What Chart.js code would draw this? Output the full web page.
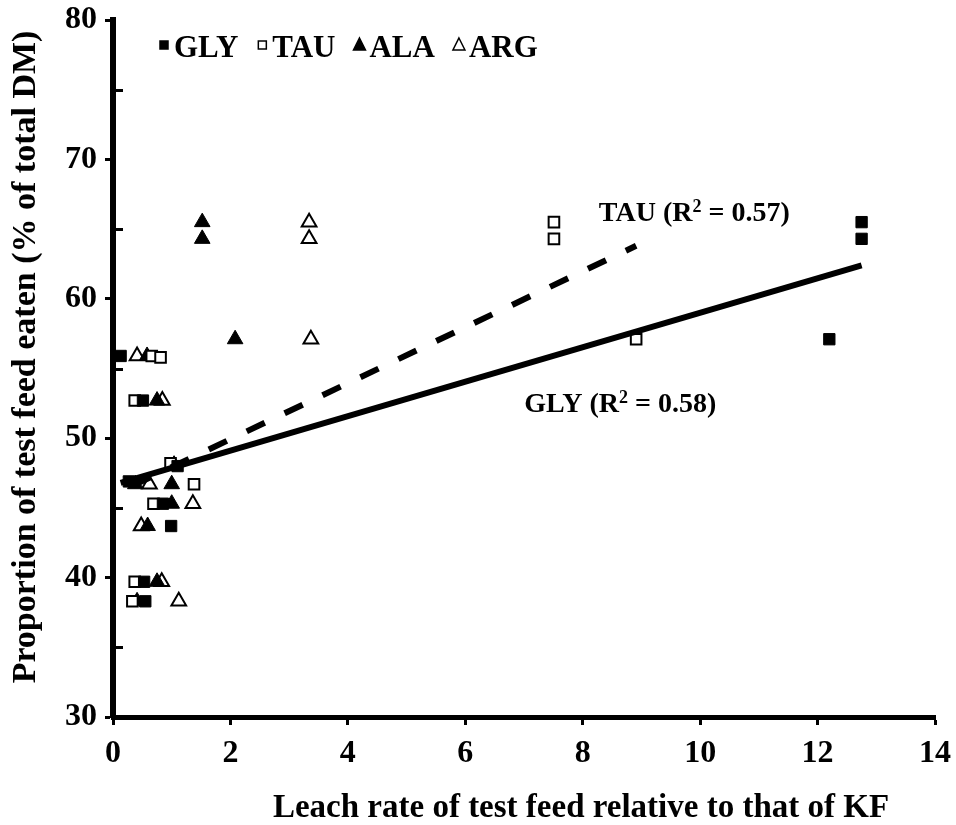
<!DOCTYPE html>
<html>
<head>
<meta charset="utf-8">
<script src="https://cdn.jsdelivr.net/npm/chart.js@4.4.1/dist/chart.umd.min.js"></script>
<style>
  body { margin: 0; background: #fff; }
  canvas { display: block; }
</style>
</head>
<body>
<canvas id="chart" width="956" height="825"></canvas>
<script>
// values
const glyX = [12.75, 12.75, 12.2, 0.13, 0.51, 1.1, 0.27, 0.85, 0.99, 0.53, 0.55];
const glyY = [65.5, 64.3, 57.1, 55.9, 52.7, 48.0, 46.9, 45.3, 43.7, 39.7, 38.3];

const tauX = [7.51, 7.51, 8.91, 0.66, 0.81, 0.37, 0.98, 1.38, 0.69, 0.37, 0.33];
const tauY = [65.5, 64.3, 57.1, 55.9, 55.8, 52.7, 48.2, 46.7, 45.3, 39.7, 38.3];

const alaX = [1.52, 1.52, 2.08, 0.58, 0.75, 1.04, 0.38, 1.0, 1.0, 0.59, 0.75, 0.41];
const alaY = [65.5, 64.3, 57.1, 55.9, 52.7, 48.1, 46.7, 46.7, 45.3, 43.7, 39.7, 38.3];

const argX = [3.34, 3.34, 3.37, 0.41, 0.84, 0.62, 1.36, 0.48, 0.83, 1.12];
const argY = [65.5, 64.3, 57.1, 55.9, 52.7, 46.7, 45.3, 43.7, 39.7, 38.3];

// trend lines (end points)
const glyFitX = [0.13, 12.75];
const glyFitY = [46.8, 62.4];
const tauFitX = [0.34, 8.91];
const tauFitY = [46.6, 63.8];

const xTicks = [0, 2, 4, 6, 8, 10, 12, 14];
const yTicks = [30, 40, 50, 60, 70, 80];
const yMinor = [35, 45, 55, 65, 75];

const FONT = '"Liberation Serif", "Times New Roman", serif';

const pts = (xs, ys) => xs.map((x, i) => ({ x, y: ys[i] }));

const legendItems = [
  { label: 'GLY', style: 'rect', fill: '#000' },
  { label: 'TAU', style: 'rect', fill: '#fff' },
  { label: 'ALA', style: 'triangle', fill: '#000' },
  { label: 'ARG', style: 'triangle', fill: '#fff' }
];

const extras = {
  id: 'extras',
  afterDraw(chart) {
    const { ctx, chartArea: a, scales: { x, y } } = chart;
    ctx.save();
    ctx.fillStyle = '#000';
    ctx.strokeStyle = '#000';

    // minor ticks, pointing inwards
    ctx.lineWidth = 3;
    for (const v of yMinor) {
      const py = Math.round(y.getPixelForValue(v)) + 0.5;
      ctx.beginPath();
      ctx.moveTo(a.left, py);
      ctx.lineTo(a.left + 10, py);
      ctx.stroke();
    }

    // legend
    ctx.font = `bold 31px ${FONT}`;
    ctx.textBaseline = 'alphabetic';
    let lx = a.left + 51;
    const ly = 45;
    for (const it of legendItems) {
      ctx.lineWidth = 1.5;
      ctx.fillStyle = it.fill;
      ctx.beginPath();
      if (it.style === 'rect') {
        ctx.rect(lx - 4, ly - 4, 8, 8);
      } else {
        ctx.moveTo(lx, ly - 7);
        ctx.lineTo(lx + 6, ly + 5);
        ctx.lineTo(lx - 6, ly + 5);
        ctx.closePath();
      }
      ctx.fill();
      ctx.stroke();
      ctx.fillStyle = '#000';
      ctx.textAlign = 'left';
      ctx.fillText(it.label, lx + 10, 57);
      lx += 10 + ctx.measureText(it.label).width + 24;
    }

    // R² labels
    const rLabel = (name, r2, vx, vy) => {
      const cx = x.getPixelForValue(vx);
      const cy = y.getPixelForValue(vy);
      const big = `bold 28px ${FONT}`;
      const small = `bold 18px ${FONT}`;
      const p1 = `${name} (R`, p2 = '2', p3 = ` = ${r2})`;
      ctx.font = big;
      const w1 = ctx.measureText(p1).width, w3 = ctx.measureText(p3).width;
      ctx.font = small;
      const w2 = ctx.measureText(p2).width;
      let sx = cx - (w1 + w2 + w3) / 2;
      const base = cy + 10;
      ctx.textAlign = 'left';
      ctx.font = big;
      ctx.fillText(p1, sx, base);
      ctx.font = small;
      ctx.fillText(p2, sx + w1, base - 9);
      ctx.font = big;
      ctx.fillText(p3, sx + w1 + w2, base);
    };
    rLabel('TAU', '0.57', 9.9, 66.3);
    rLabel('GLY', '0.58', 8.64, 52.6);

    // axis titles
    ctx.font = `bold 33px ${FONT}`;
    ctx.textAlign = 'center';
    ctx.textBaseline = 'middle';
    ctx.fillText('Leach rate of test feed relative to that of KF', 581, 808);
    ctx.font = `bold 34px ${FONT}`;
    ctx.translate(26, 357);
    ctx.rotate(-Math.PI / 2);
    ctx.fillText('Proportion of test feed eaten (% of total DM)', 0, 0);
    ctx.restore();
  }
};

const tickFont = { family: FONT, size: 32, weight: 'bold' };

new Chart(document.getElementById('chart'), {
  type: 'scatter',
  data: {
    datasets: [
      {
        label: 'GLY fit', data: pts(glyFitX, glyFitY), showLine: true,
        borderColor: '#000', borderWidth: 6, pointRadius: 0, fill: false
      },
      {
        label: 'TAU fit', data: pts(tauFitX, tauFitY), showLine: true,
        borderColor: '#000', borderWidth: 6, borderDash: [20, 22], pointRadius: 0, fill: false
      },
      {
        label: 'GLY', data: pts(glyX, glyY), pointStyle: 'rect', pointRadius: 8,
        backgroundColor: '#000', borderColor: '#000', borderWidth: 1
      },
      {
        label: 'TAU', data: pts(tauX, tauY), pointStyle: 'rect', pointRadius: 7.5,
        backgroundColor: '#fff', borderColor: '#000', borderWidth: 2
      },
      {
        label: 'ALA', data: pts(alaX, alaY), pointStyle: 'triangle', pointRadius: 9,
        backgroundColor: '#000', borderColor: '#000', borderWidth: 1
      },
      {
        label: 'ARG', data: pts(argX, argY), pointStyle: 'triangle', pointRadius: 8.5,
        backgroundColor: '#fff', borderColor: '#000', borderWidth: 2
      }
    ]
  },
  options: {
    responsive: false,
    animation: false,
    layout: { padding: { top: 20, right: 21, left: 0, bottom: 0 } },
    plugins: { legend: { display: false }, tooltip: { enabled: false } },
    scales: {
      x: {
        type: 'linear', min: 0, max: 14,
        afterBuildTicks: s => { s.ticks = xTicks.map(value => ({ value })); },
        afterFit: s => { s.height = 108; s.paddingLeft = 0; s.paddingRight = 0; },
        ticks: { font: tickFont, color: '#000', padding: 10, maxRotation: 0 },
        grid: { drawOnChartArea: false, drawTicks: true, tickLength: 8, tickWidth: 3, tickColor: '#000' },
        border: { display: true, color: '#000', width: 5 }
      },
      y: {
        type: 'linear', min: 30, max: 80,
        afterBuildTicks: s => { s.ticks = yTicks.map(value => ({ value })); },
        afterFit: s => { s.width = 113; s.paddingTop = 0; s.paddingBottom = 0; },
        ticks: { font: tickFont, color: '#000', padding: 8 },
        grid: { drawOnChartArea: false, drawTicks: true, tickLength: 8, tickWidth: 3, tickColor: '#000' },
        border: { display: true, color: '#000', width: 6 }
      }
    }
  },
  plugins: [extras]
});
</script>
</body>
</html>
